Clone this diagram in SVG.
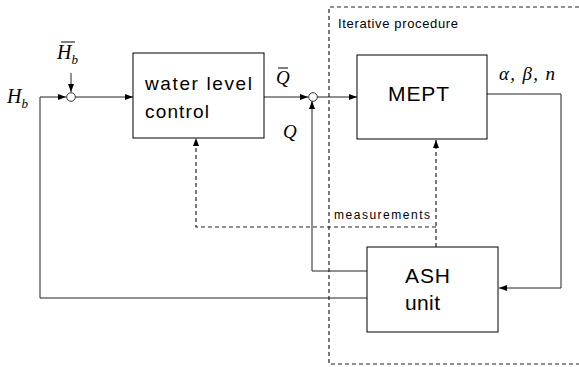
<svg xmlns="http://www.w3.org/2000/svg" width="579" height="367" viewBox="0 0 579 367">
<style>
.box{fill:#fff;stroke:#000;stroke-width:1}
.ln{fill:none;stroke:#222;stroke-width:1}
.dash{fill:none;stroke:#222;stroke-width:1.2;stroke-dasharray:4,3}
.lbl{font-family:"Liberation Sans",Arial,sans-serif;fill:#000}
.math{font-family:"Liberation Serif","Times New Roman",serif;font-style:italic;fill:#000}
.sum{fill:#fff;stroke:#333;stroke-width:1}
</style>
<defs>
<marker id="ah" markerWidth="8" markerHeight="6" refX="8" refY="3" orient="auto" markerUnits="userSpaceOnUse">
<path d="M0,0 L8,3 L0,6 Z" fill="#000"/>
</marker>
</defs>
<g id="frame">
<path class="dash" d="M579,7 H329 V364 H579"/>
<text class="lbl" x="338" y="28" font-size="13" textLength="120" lengthAdjust="spacing">Iterative procedure</text>
</g>
<g id="connectors">
<path class="ln" d="M40,298 V97 H66" marker-end="url(#ah)"/>
<path class="ln" d="M71,73 V92" marker-end="url(#ah)"/>
<path class="ln" d="M75,97 H133" marker-end="url(#ah)"/>
<path class="ln" d="M264,97 H308" marker-end="url(#ah)"/>
<path class="ln" d="M317,97 H357" marker-end="url(#ah)"/>
<path class="ln" d="M367,271 H312 V101" marker-end="url(#ah)"/>
<path class="ln" d="M487,94 H561 V288 H499" marker-end="url(#ah)"/>
<path class="ln" d="M367,298 H40"/>
<path class="dash" d="M436,247 V140" marker-end="url(#ah)"/>
<path class="dash" d="M436,227 H196 V138" marker-end="url(#ah)"/>
<text class="lbl" x="334" y="219" font-size="12" textLength="96" lengthAdjust="spacing">measurements</text>
</g>
<g id="sum1"><circle class="sum" cx="71" cy="97" r="4.3"/></g>
<g id="sum2"><circle class="sum" cx="313" cy="97" r="4.3"/></g>
<g id="labels">
<text class="math" x="7" y="103" font-size="20">H<tspan font-size="13" dy="5">b</tspan></text>
<text class="math" x="57" y="59" font-size="20">H<tspan font-size="13" dy="5">b</tspan></text>
<line x1="61" y1="42" x2="75" y2="42" stroke="#000" stroke-width="1"/>
<text class="math" x="276" y="84" font-size="19">Q</text>
<line x1="278" y1="68" x2="288" y2="68" stroke="#000" stroke-width="1"/>
<text class="math" x="283" y="138" font-size="19">Q</text>
<text class="math" x="499" y="80" font-size="19" textLength="56" lengthAdjust="spacing">α, β, n</text>
</g>
<g id="water">
<rect class="box" x="133" y="53" width="131" height="85"/>
<text class="lbl" x="145" y="90" font-size="19" textLength="107" lengthAdjust="spacing">water level</text>
<text class="lbl" x="145" y="118" font-size="19" textLength="64" lengthAdjust="spacing">control</text>
</g>
<g id="mept">
<rect class="box" x="357" y="55" width="130" height="84"/>
<text class="lbl" x="388" y="101" font-size="21" textLength="61" lengthAdjust="spacing">MEPT</text>
</g>
<g id="ash">
<rect class="box" x="367" y="247" width="131" height="85"/>
<text class="lbl" x="405" y="283" font-size="21" textLength="45" lengthAdjust="spacing">ASH</text>
<text class="lbl" x="405" y="310" font-size="21" textLength="35" lengthAdjust="spacing">unit</text>
</g>
</svg>
